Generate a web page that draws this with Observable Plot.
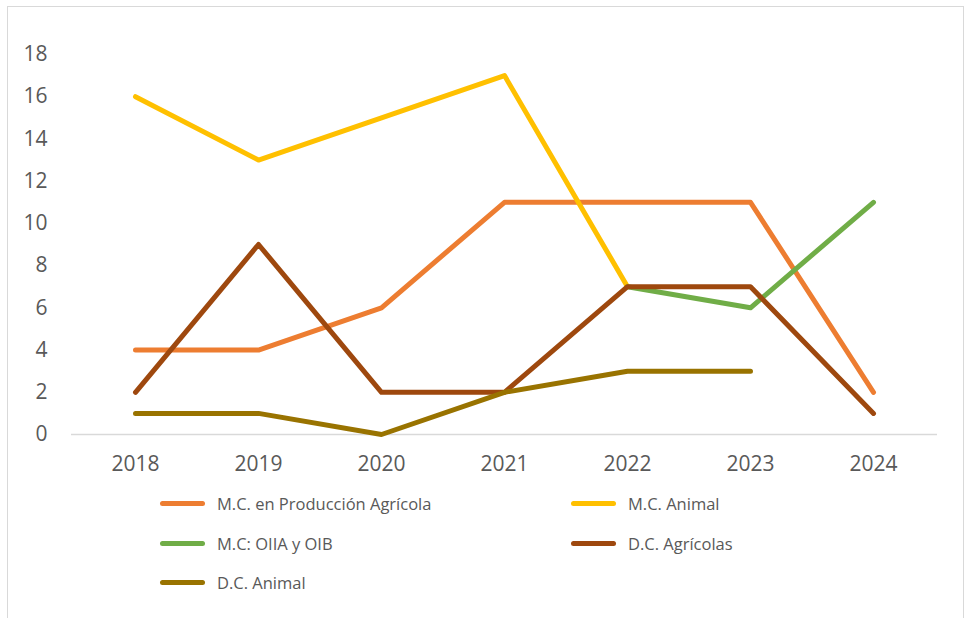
<!DOCTYPE html>
<html>
<head>
<meta charset="utf-8">
<script src="https://cdn.jsdelivr.net/npm/d3@7"></script>
<script src="https://cdn.jsdelivr.net/npm/@observablehq/plot@0.6"></script>
<style>
  html, body { margin: 0; padding: 0; background: #fff; }
  body { width: 967px; height: 618px; position: relative; overflow: hidden; font-family: "Open Sans", sans-serif; }
  #frame { position: absolute; left: 7px; top: 6px; width: 957px; height: 640px; border: 1px solid #d9d9d9; box-sizing: border-box; }
  #chart { position: absolute; left: 0; top: 0; }
  .leg { position: absolute; display: flex; align-items: center; font-size: 16.5px; color: #595959; white-space: nowrap; }
  .sw { width: 45px; height: 5px; border-radius: 3px; margin-right: 12px; }
</style>
</head>
<body>
<div id="frame"></div>
<div id="chart"></div>
<div id="legend"></div>
<script>
const years = ["2018", "2019", "2020", "2021", "2022", "2023", "2024"];
const seriesNames = ["M.C. en Producción Agrícola", "M.C. Animal", "M.C: OIIA y OIB", "D.C. Agrícolas", "D.C. Animal"];
const seriesColors = ["#ED7D31", "#FFC000", "#70AD47", "#9E480E", "#997300"];
const mcProduccionAgricola = [4, 4, 6, 11, 11, 11, 2];
const mcAnimal = [16, 13, 15, 17, 7, null, null];
const mcOiiaOib = [null, null, null, null, 7, 6, 11];
const dcAgricolas = [2, 9, 2, 2, 7, 7, 1];
const dcAnimal = [1, 1, 0, 2, 3, 3, null];
const yTicks = [0, 2, 4, 6, 8, 10, 12, 14, 16, 18];

const seriesValues = [mcProduccionAgricola, mcAnimal, mcOiiaOib, dcAgricolas, dcAnimal];
const rows = [];
seriesNames.forEach((name, i) => {
  years.forEach((yr, j) => rows.push({series: name, year: yr, value: seriesValues[i][j]}));
});

const chart = Plot.plot({
  width: 967,
  height: 480,
  marginLeft: 71,
  marginRight: 30,
  marginTop: 54,
  marginBottom: 46,
  style: {fontFamily: "'Open Sans', sans-serif", fontSize: "21px", color: "#595959", background: "transparent"},
  x: {type: "point", domain: years, padding: 0.5, label: null},
  y: {domain: [0, 18], ticks: yTicks, label: null},
  color: {domain: seriesNames, range: seriesColors},
  marks: [
    Plot.axisY({ticks: yTicks, tickSize: 0, tickPadding: 24, fontSize: 21, fill: "#595959", label: null}),
    Plot.axisX({tickSize: 0, tickPadding: 22, fontSize: 21, fill: "#595959", label: null}),
    Plot.ruleY([0], {stroke: "#d9d9d9", strokeWidth: 1.5}),
    Plot.line(rows, {x: "year", y: "value", z: "series", stroke: "series", strokeWidth: 5, strokeLinecap: "round", strokeLinejoin: "round", defined: d => d.value != null})
  ]
});
document.getElementById("chart").appendChild(chart);

const legendPos = [[160, 503], [571, 503], [160, 543], [571, 543], [160, 582]];
const legend = document.getElementById("legend");
seriesNames.forEach((name, i) => {
  const item = document.createElement("div");
  item.className = "leg";
  item.style.left = legendPos[i][0] + "px";
  item.style.top = (legendPos[i][1] - 11) + "px";
  item.style.height = "22px";
  const sw = document.createElement("div");
  sw.className = "sw";
  sw.style.background = seriesColors[i];
  const tx = document.createElement("span");
  tx.textContent = name;
  item.appendChild(sw);
  item.appendChild(tx);
  legend.appendChild(item);
});
</script>
</body>
</html>
